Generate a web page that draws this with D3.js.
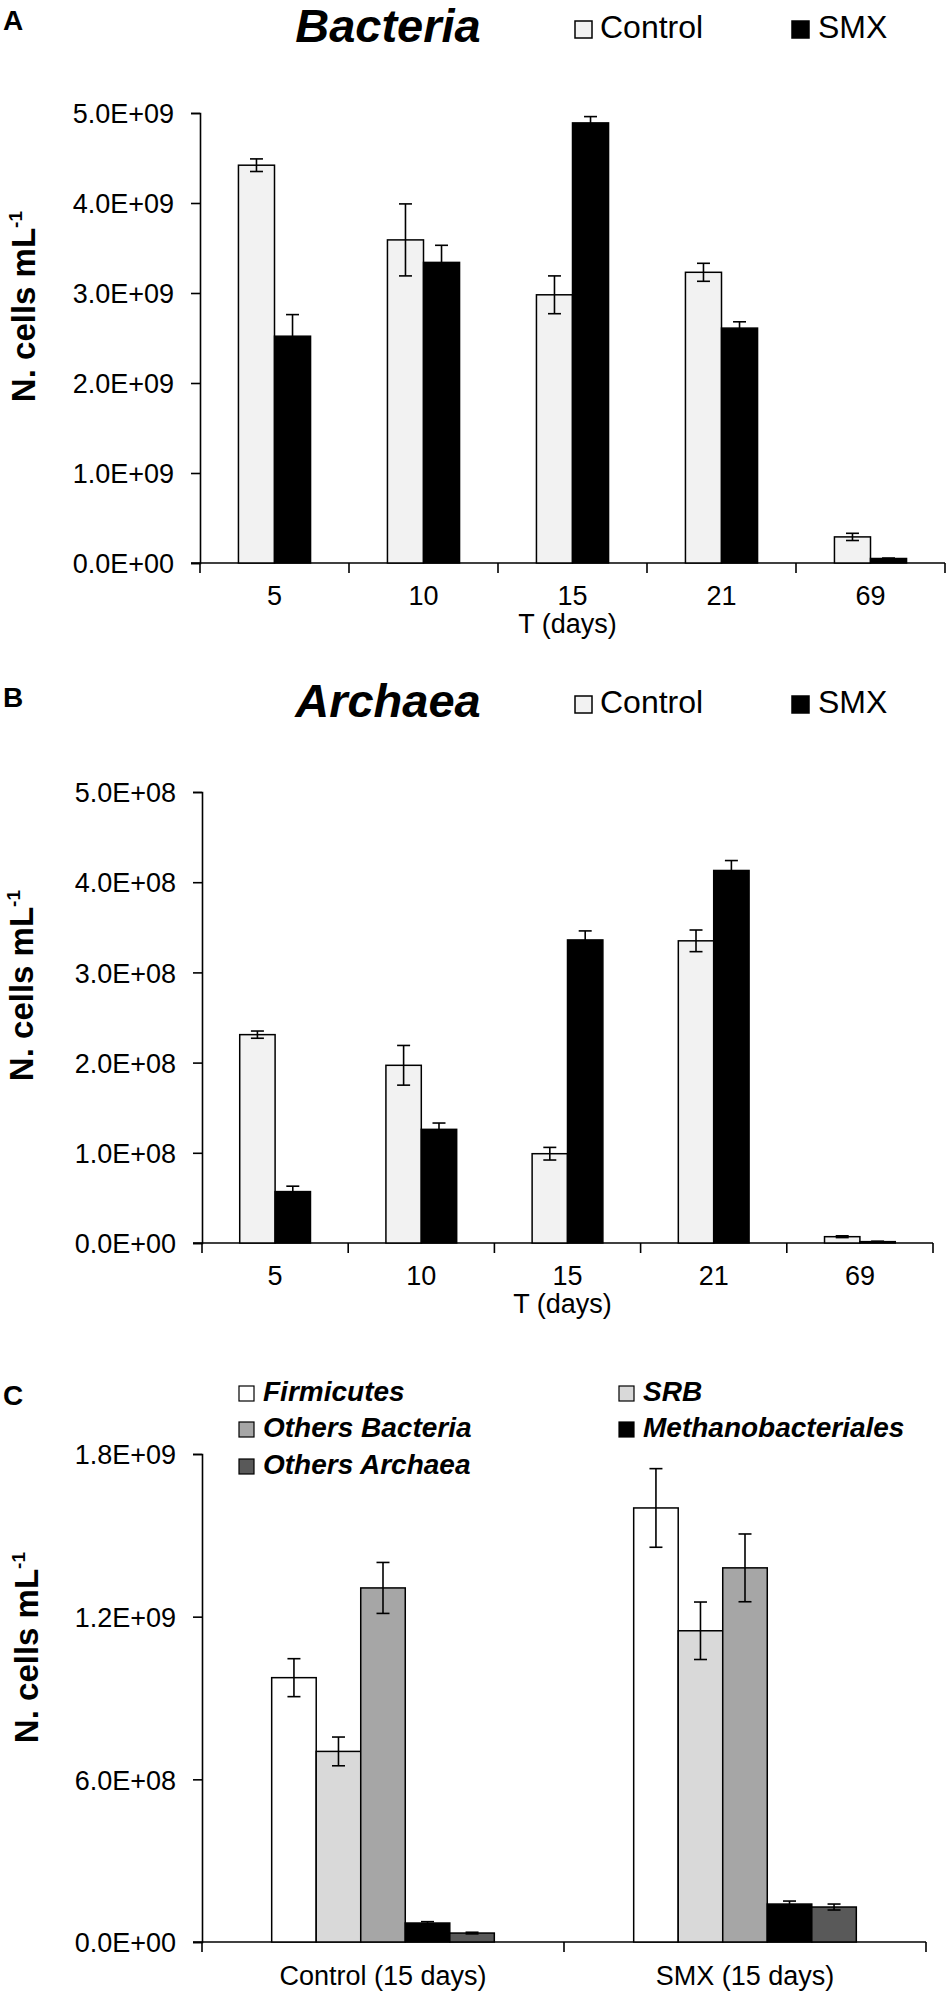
<!DOCTYPE html>
<html>
<head>
<meta charset="utf-8">
<script src="https://cdn.jsdelivr.net/npm/d3@7"></script>
<style>
  body { margin: 0; background: #fff; }
  text { font-family: "Liberation Sans", Arial, sans-serif; fill: #000; }
</style>
</head>
<body>
<div id="chart"></div>
<script>
// ---- data ----
const days = ['5', '10', '15', '21', '69'];
const treatments = ['Control', 'SMX'];

const bacControl    = [4.42e9, 3.59e9, 2.98e9, 3.23e9, 0.29e9];
const bacControlErr = [0.07e9, 0.40e9, 0.21e9, 0.10e9, 0.04e9];
const bacSMX        = [2.52e9, 3.34e9, 4.89e9, 2.61e9, 0.05e9];
const bacSMXErr     = [0.24e9, 0.19e9, 0.07e9, 0.07e9, 0.005e9];

const arcControl    = [2.31e8, 1.97e8, 0.99e8, 3.35e8, 0.07e8];
const arcControlErr = [0.04e8, 0.22e8, 0.07e8, 0.12e8, 0.01e8];
const arcSMX        = [0.57e8, 1.26e8, 3.36e8, 4.13e8, 0.015e8];
const arcSMXErr     = [0.06e8, 0.07e8, 0.10e8, 0.11e8, 0.005e8];

const groups = ['Control (15 days)', 'SMX (15 days)'];
const taxa = ['Firmicutes', 'SRB', 'Others Bacteria', 'Methanobacteriales', 'Others Archaea'];
const taxaControl    = [0.975e9, 0.703e9, 1.306e9, 0.070e9, 0.033e9];
const taxaControlErr = [0.070e9, 0.053e9, 0.094e9, 0.005e9, 0.003e9];
const taxaSMX        = [1.601e9, 1.148e9, 1.380e9, 0.140e9, 0.129e9];
const taxaSMXErr     = [0.145e9, 0.106e9, 0.125e9, 0.011e9, 0.011e9];

const ticksA = [0, 1e9, 2e9, 3e9, 4e9, 5e9];
const ticksB = [0, 1e8, 2e8, 3e8, 4e8, 5e8];
const ticksC = [0, 6e8, 12e8, 18e8];

const treatColor = d3.scaleOrdinal().domain(treatments).range(['#f2f2f2', '#000000']);
const taxaColor = d3.scaleOrdinal().domain(taxa)
  .range(['#ffffff', '#d9d9d9', '#a6a6a6', '#000000', '#595959']);

// E-notation like the spreadsheet: 5.0E+09
function sci(v) {
  const [m, e] = v.toExponential(1).split('e');
  return m + 'E' + e[0] + e.slice(1).padStart(2, '0');
}

const svg = d3.select('#chart').append('svg')
  .attr('width', 950)
  .attr('height', 1995);

function panel(opt) {
  const g = svg.append('g');
  const y = d3.scaleLinear().domain([0, opt.ymax]).range([opt.bottom, opt.top]);
  const x = d3.scaleBand().domain(opt.cats).range([opt.left, opt.right]);
  const n = opt.series.length;
  const bw = opt.barFrac * x.step();

  // y axis
  g.append('g')
    .attr('transform', `translate(${opt.left},0)`)
    .call(d3.axisLeft(y).tickValues(opt.ticks).tickFormat(sci).tickSizeOuter(0).tickSize(9).tickPadding(17))
    .call(a => a.select('.domain').attr('stroke-width', 1.6))
    .call(a => a.selectAll('.tick line').attr('stroke-width', 1.6))
    .call(a => a.selectAll('text').attr('font-size', 27).attr('dy', '0.36em'));

  // x axis: line, boundary ticks, centred labels
  g.append('line')
    .attr('x1', opt.left - 9).attr('x2', opt.right)
    .attr('y1', opt.bottom).attr('y2', opt.bottom)
    .attr('stroke', '#000').attr('stroke-width', 1.6);
  g.selectAll('.bt')
    .data(opt.cats.map(c => x(c)).concat([opt.right]))
    .join('line')
      .attr('x1', d => d).attr('x2', d => d)
      .attr('y1', opt.bottom).attr('y2', opt.bottom + 10)
      .attr('stroke', '#000').attr('stroke-width', 1.6);
  g.selectAll('.cl')
    .data(opt.cats)
    .join('text')
      .attr('x', d => x(d) + x.bandwidth() / 2)
      .attr('y', opt.bottom + opt.labelGap)
      .attr('text-anchor', 'middle')
      .attr('font-size', 27)
      .text(d => d);
  if (opt.xTitle) {
    g.append('text')
      .attr('x', (opt.left + opt.right) / 2 - 5)
      .attr('y', opt.bottom + 70)
      .attr('text-anchor', 'middle')
      .attr('font-size', 27)
      .text(opt.xTitle);
  }

  // bars
  const rows = [];
  opt.cats.forEach((c, i) => {
    const cx = x(c) + x.bandwidth() / 2;
    const inner = d3.scaleBand().domain(opt.series).range([cx - n * bw / 2, cx + n * bw / 2]);
    opt.series.forEach((s, j) => {
      rows.push({cat: c, s, x: inner(s), v: opt.values[j][i], e: opt.errors[j][i]});
    });
  });
  g.selectAll('.bar')
    .data(rows)
    .join('rect')
      .attr('x', d => d.x)
      .attr('y', d => y(d.v))
      .attr('width', bw)
      .attr('height', d => y(0) - y(d.v))
      .attr('fill', d => opt.color(d.s))
      .attr('stroke', '#000')
      .attr('stroke-width', 1.5);

  // error bars
  const cap = 6.5;
  const eb = g.selectAll('.err').data(rows).join('g')
    .attr('stroke', '#000').attr('stroke-width', 1.6);
  eb.append('line')
    .attr('x1', d => d.x + bw / 2).attr('x2', d => d.x + bw / 2)
    .attr('y1', d => y(d.v + d.e)).attr('y2', d => y(Math.max(0, d.v - d.e)));
  eb.append('line')
    .attr('x1', d => d.x + bw / 2 - cap).attr('x2', d => d.x + bw / 2 + cap)
    .attr('y1', d => y(d.v + d.e)).attr('y2', d => y(d.v + d.e));
  eb.append('line')
    .attr('x1', d => d.x + bw / 2 - cap).attr('x2', d => d.x + bw / 2 + cap)
    .attr('y1', d => y(Math.max(0, d.v - d.e))).attr('y2', d => y(Math.max(0, d.v - d.e)));

  // y title
  const yt = g.append('text')
    .attr('transform', `translate(${opt.yTitleX},${opt.top + 98}) rotate(-90)`)
    .attr('text-anchor', 'end')
    .attr('font-size', 33)
    .attr('font-weight', 'bold')
    .text('N. cells mL');
  yt.append('tspan').attr('dy', -13).attr('font-size', 19).text('-1');

  // panel letter
  g.append('text')
    .attr('x', 3).attr('y', opt.letterY)
    .attr('font-size', 28).attr('font-weight', 'bold')
    .text(opt.letter);

  return g;
}

function treatLegend(g, title, base) {
  g.append('text')
    .attr('x', 388).attr('y', base + 4)
    .attr('text-anchor', 'middle')
    .attr('font-size', 47).attr('font-weight', 'bold').attr('font-style', 'italic')
    .text(title);
  const pos = [{x: 575, tx: 600}, {x: 792, tx: 818}];
  treatments.forEach((t, i) => {
    g.append('rect')
      .attr('x', pos[i].x).attr('y', base - 17)
      .attr('width', 17).attr('height', 17)
      .attr('fill', treatColor(t)).attr('stroke', '#000').attr('stroke-width', 1.5);
    g.append('text')
      .attr('x', pos[i].tx).attr('y', base)
      .attr('font-size', 32)
      .text(t);
  });
}

// ---- A: Bacteria ----
const gA = panel({
  cats: days, series: treatments, values: [bacControl, bacSMX], errors: [bacControlErr, bacSMXErr],
  color: treatColor, ymax: 5e9, ticks: ticksA,
  left: 200, right: 945, top: 113, bottom: 563, barFrac: 0.242, labelGap: 42,
  xTitle: 'T (days)', yTitleX: 35, letter: 'A', letterY: 30
});
treatLegend(gA, 'Bacteria', 38);

// ---- B: Archaea ----
const gB = panel({
  cats: days, series: treatments, values: [arcControl, arcSMX], errors: [arcControlErr, arcSMXErr],
  color: treatColor, ymax: 5e8, ticks: ticksB,
  left: 202, right: 933, top: 792, bottom: 1243, barFrac: 0.242, labelGap: 42,
  xTitle: 'T (days)', yTitleX: 33, letter: 'B', letterY: 707
});
treatLegend(gB, 'Archaea', 713);

// ---- C: taxa at 15 days ----
const gC = panel({
  cats: groups, series: taxa,
  values: [0, 1, 2, 3, 4].map(j => [taxaControl[j], taxaSMX[j]]),
  errors: [0, 1, 2, 3, 4].map(j => [taxaControlErr[j], taxaSMXErr[j]]),
  color: taxaColor, ymax: 1.8e9, ticks: ticksC,
  left: 202, right: 926, top: 1454, bottom: 1942, barFrac: 0.123, labelGap: 43,
  xTitle: null, yTitleX: 38, letter: 'C', letterY: 1405
});

// legend C, two columns
const legPos = [
  {x: 239, y: 1401}, {x: 619, y: 1401},
  {x: 239, y: 1437}, {x: 619, y: 1437},
  {x: 239, y: 1474}
];
taxa.forEach((t, i) => {
  const p = legPos[i];
  gC.append('rect')
    .attr('x', p.x).attr('y', p.y - 15)
    .attr('width', 15).attr('height', 15)
    .attr('fill', taxaColor(t)).attr('stroke', '#000').attr('stroke-width', 1.2);
  gC.append('text')
    .attr('x', p.x + 24).attr('y', p.y)
    .attr('font-size', 28).attr('font-weight', 'bold').attr('font-style', 'italic')
    .text(t);
});
</script>
</body>
</html>
